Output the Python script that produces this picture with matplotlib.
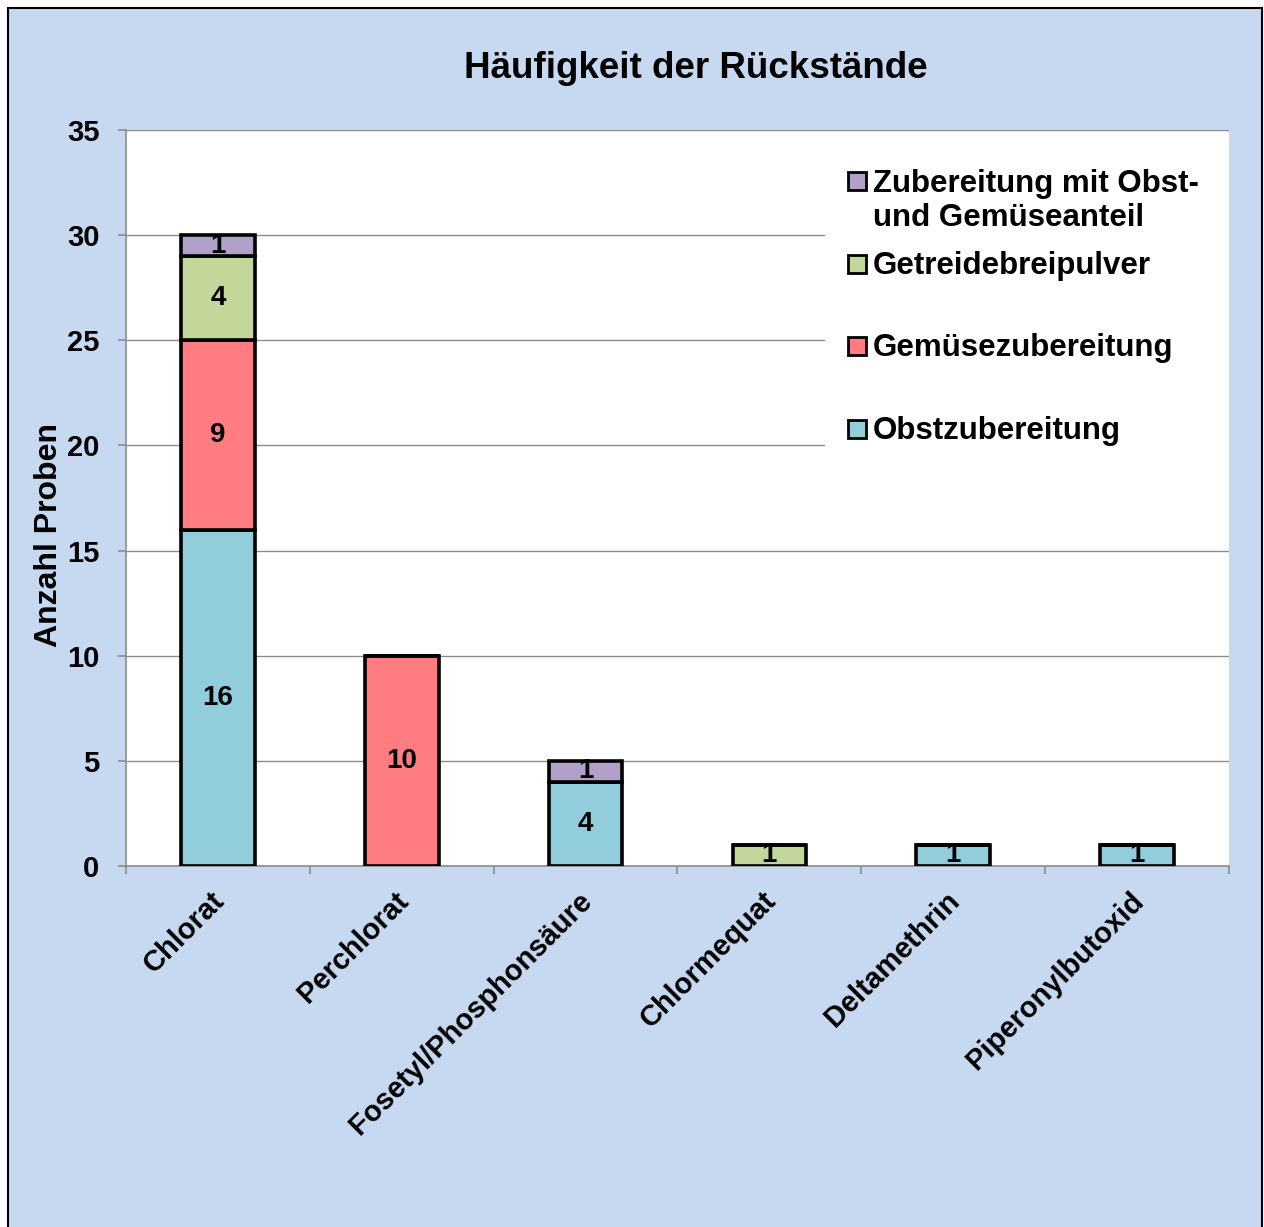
import matplotlib.pyplot as plt
import matplotlib.patches as mpatches
import matplotlib.transforms as mtransforms
import numpy as np

# Rückstände und Anzahl Proben je Produktgruppe
categories = ["Chlorat", "Perchlorat", "Fosetyl/Phosphonsäure",
              "Chlormequat", "Deltamethrin", "Piperonylbutoxid"]
series_names = ["Obstzubereitung", "Gemüsezubereitung", "Getreidebreipulver",
                "Zubereitung mit Obst-\nund Gemüseanteil"]
obst = [16, 0, 4, 0, 1, 1]
gemuese = [9, 10, 0, 0, 0, 0]
getreide = [4, 0, 0, 1, 0, 0]
gemischt = [1, 0, 1, 0, 0, 0]
series_values = [obst, gemuese, getreide, gemischt]
series_colors = ["#92CDDC", "#FF7C80", "#C4D79B", "#B1A0C7"]

bg = "#C6D9F1"
grid_col = "#8C8C8C"
plt.rcParams['font.family'] = ['Liberation Sans', 'DejaVu Sans']
plt.rcParams['font.weight'] = 'bold'

fig = plt.figure(figsize=(12.64, 12.27), dpi=100, facecolor="white")
W, H = 1264, 1227


def px(x, y):
    # Pixelposition (von oben links) in Figurkoordinaten
    return x / W, 1 - y / H


# äußerer Rahmen des Diagrammbereichs
frame = mpatches.Rectangle((8 / W, -0.01), (1262 - 8) / W, (H - 8) / H + 0.01,
                           transform=fig.transFigure, facecolor=bg,
                           edgecolor="black", linewidth=1.5, zorder=-10)
fig.patches.append(frame)

ax = fig.add_axes([126 / W, 1 - 866 / H, (1229 - 126) / W, (866 - 130) / H])
ax.set_facecolor("white")

x = np.arange(len(categories))
bottom = np.zeros(len(categories))
for name, vals, col in zip(series_names, series_values, series_colors):
    vals = np.array(vals, dtype=float)
    ax.bar(x, vals, 0.4, bottom=bottom, color=col, edgecolor="black",
           linewidth=2.6, zorder=3, label=name)
    for xi, v, b in zip(x, vals, bottom):
        if v > 0:
            ax.text(xi, b + v / 2, f"{int(v)}", ha="center", va="center",
                    fontsize=20, fontweight="bold", zorder=4)
    bottom += vals

ax.set_xlim(-0.5, len(categories) - 0.5)
ax.set_ylim(0, 35)
ax.set_yticks(np.arange(0, 36, 5))
ax.yaxis.grid(True, color=grid_col, linewidth=1, zorder=0)
ax.set_axisbelow(True)

for side in ["top", "right"]:
    ax.spines[side].set_visible(False)
for side in ["left", "bottom"]:
    ax.spines[side].set_color(grid_col)
    ax.spines[side].set_linewidth(1.2)

ax.tick_params(axis="y", length=6, width=1.2, color=grid_col,
               labelsize=21, pad=13)
ax.set_xticks(x)
ax.set_xticks(np.arange(-0.5, len(categories), 1), minor=True)
ax.tick_params(axis="x", which="major", length=0, pad=22)
ax.tick_params(axis="x", which="minor", length=6, width=1.2, color=grid_col)
ax.set_xticklabels(categories, rotation=45, ha="right", va="center",
                   rotation_mode="anchor", fontsize=21, fontweight="bold")
shift = mtransforms.ScaledTranslation(2 / 100, 0, fig.dpi_scale_trans)
for lbl in ax.get_xticklabels():
    lbl.set_transform(lbl.get_transform() + shift)
for lbl in ax.get_yticklabels():
    lbl.set_fontweight("bold")

ax.set_ylabel("Anzahl Proben", fontsize=23, fontweight="bold")
ax.yaxis.set_label_coords(-0.0562, 0.45)

fig.text(*px(696, 68), "Häufigkeit der Rückstände", ha="center",
         va="center", fontsize=26.5, fontweight="bold")

# Legende: weißer Kasten über den Gitterlinien, Einträge in umgekehrter Reihenfolge
box = mpatches.Rectangle(px(825, 460), (1229 - 825) / W, (460 - 152) / H,
                         transform=fig.transFigure, facecolor="white",
                         edgecolor="none", zorder=2)
ax.add_patch(box)
entry_y = [181, 264, 346, 429]
for name, col, ey in zip(series_names[::-1], series_colors[::-1], entry_y):
    sq = mpatches.Rectangle(px(848, ey + 9), 18 / W, 18 / H,
                            transform=fig.transFigure, facecolor=col,
                            edgecolor="black", linewidth=2, zorder=5)
    ax.add_patch(sq)
    n_lines = name.count("\n")
    ax.text(*px(873, ey + 2 + 18 * n_lines), name, transform=fig.transFigure,
            ha="left", va="center", fontsize=22.5, fontweight="bold",
            linespacing=1.2, zorder=5)

fig.savefig("out.png", dpi=100, facecolor=fig.get_facecolor())
